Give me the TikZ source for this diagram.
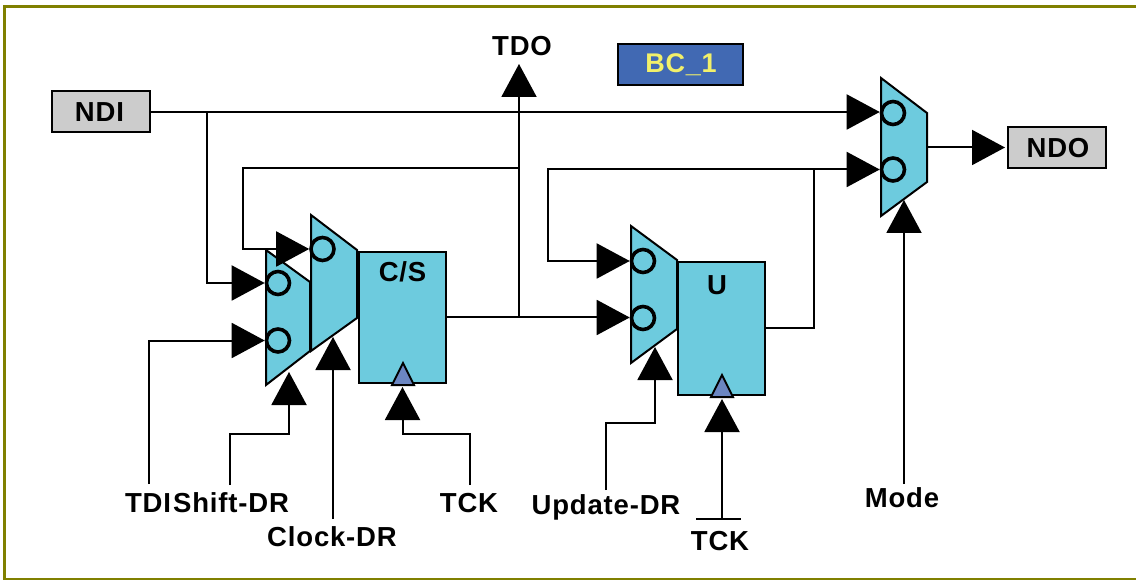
\documentclass[tikz,border=0pt]{standalone}
\usepackage{fontspec}
\setmainfont{Liberation Sans}[LetterSpace=3]
\usetikzlibrary{arrows.meta}
\definecolor{cyanfill}{HTML}{6DCBDE}
\definecolor{greyfill}{HTML}{CCCCCC}
\definecolor{bluefill}{HTML}{4169B3}
\definecolor{clockfill}{HTML}{6B86C2}
\definecolor{olivef}{HTML}{808000}
\definecolor{yellowt}{HTML}{F2F06A}
\tikzset{
  wire/.style={line width=2pt,draw=black,line join=miter},
  flow/.style={wire,-{Triangle[length=33pt,width=35pt,fill=black]}},
  muxbody/.style={line width=2pt,draw=black,fill=cyanfill,line join=miter},
  port/.style={circle,draw=black,line width=3.6pt,fill=cyanfill,minimum size=23pt,inner sep=0pt},
  reg/.style={rectangle,draw=black,line width=2pt,fill=cyanfill,inner sep=0pt},
  io/.style={rectangle,draw=black,line width=2pt,fill=greyfill,inner sep=0pt,font=\fontsize{27.5}{30}\selectfont\bfseries},
  lbl/.style={inner sep=0pt,font=\fontsize{27.5}{30}\selectfont\bfseries,text=black},
  clk/.style={line width=2pt,draw=black,fill=clockfill,line join=miter},
}
\begin{document}
\begin{tikzpicture}[x=1pt,y=-1pt]
\useasboundingbox (0,0) rectangle (1136,580);
\fill[white] (0,0) rectangle (1136,580);
\draw[olivef,line width=3pt] (1136,6.2) -- (4.8,6.2) -- (4.8,579.5) -- (1136,579.5);

% registers and boxes
\node[io,minimum width=98pt,minimum height=41pt] (ndi) at (101,112) {\hspace{-3pt}NDI};
\node[io,minimum width=98pt,minimum height=41pt] (ndo) at (1057,148) {\hspace{2pt}NDO};
\node[rectangle,draw=black,line width=2pt,fill=bluefill,inner sep=0pt,minimum width=125pt,minimum height=41pt,text=yellowt,font=\fontsize{27}{30}\selectfont\bfseries] (bc) at (680.5,64.5) {\hspace{1pt}BC\_1};
\node[reg,minimum width=87pt,minimum height=131pt] (cs) at (402.5,317.5) {};
\node[lbl] (cslbl) at (402.5,272) {C/S};
\node[reg,minimum width=87pt,minimum height=133pt] (u) at (721.5,328.5) {};
\node[lbl] (ulbl) at (717,285) {U};

% multiplexers
\draw[muxbody] (266,250) -- (310,282) -- (310,351) -- (266,385) -- cycle;
\draw[muxbody] (311,215) -- (357,250) -- (357,318) -- (311,351) -- cycle;
\draw[muxbody] (631,226) -- (677,260) -- (677,329) -- (631,363) -- cycle;
\draw[muxbody] (881,78) -- (927,113) -- (927,182) -- (881,216) -- cycle;

% ports
\node[port] (p1a) at (278,283) {};
\node[port] (p1b) at (278,340.5) {};
\node[port] (p2a) at (322.5,249) {};
\node[port] (p3a) at (643,261) {};
\node[port] (p3b) at (643,318) {};
\node[port] (p4a) at (893,113) {};
\node[port] (p4b) at (893,169.5) {};

% clock triangles
\draw[clk] (403,363) -- (414,385) -- (392,385) -- cycle;
\draw[clk] (722,375) -- (733,397) -- (711,397) -- cycle;

% junctions and free ends
\coordinate (jndi) at (207,112);
\coordinate (jtdo) at (519,317.5);
\coordinate (jfb) at (519,168.5);
\coordinate (ju) at (814,169.5);
\coordinate (tdotip) at (519,64);
\coordinate (tdi) at (149,484);
\coordinate (shift) at (230,485);
\coordinate (clock) at (333,519);
\coordinate (tck1) at (470,485);
\coordinate (upd) at (606,490);
\coordinate (tck2) at (722,519);
\coordinate (mode) at (904,484);
\coordinate (tb1) at (696,519);
\coordinate (tb2) at (741,519);
\coordinate (mo) at (927,147.5);
\coordinate (uo) at (765,328);
\coordinate (ndotip) at (1005,147.5);

% connectors
\draw[flow] (ndi.east |- jndi) -- (p4a.west |- jndi);
\draw[flow] (jndi) |- (p1a.west);
\draw[flow] (tdi) |- (p1b.west);
\draw[flow] (jfb) -| (243,249) -- (p2a.west);
\draw[flow] (cs.east |- jtdo) -- (p3b.west |- jtdo);
\draw[flow] (jtdo) -- (tdotip);
\draw[flow] (ju) -| (548,261) -- (p3a.west);
\draw[flow] (uo) -| (ju) -- (p4b.west |- ju);
\draw[flow] (mo) -- (ndotip);
\draw[flow] (shift) |- (289,434) -- (289,372);
\draw[flow] (clock) -- (333,337);
\draw[flow] (tck1) |- (402.5,434) -- (402.5,387);
\draw[flow] (upd) |- (655,423) -- (655,347);
\draw[flow] (tck2) -- (722,399);
\draw[wire] (tb1) -- (tb2);
\draw[flow] (mode) -- (904,200);

% labels
\node[lbl] (ltdo) at (522,46) {TDO};
\node[lbl] (ltdi) at (148,503) {TDI};
\node[lbl] (lshift) at (231,503) {Shift-DR};
\node[lbl] (lclock) at (332,537) {Clock-DR};
\node[lbl] (ltck1) at (469,503) {TCK};
\node[lbl] (lupd) at (606,507) {Update-DR};
\node[lbl] (ltck2) at (720,541) {TCK};
\node[lbl] (lmode) at (902,498) {Mode};
\end{tikzpicture}
\end{document}
